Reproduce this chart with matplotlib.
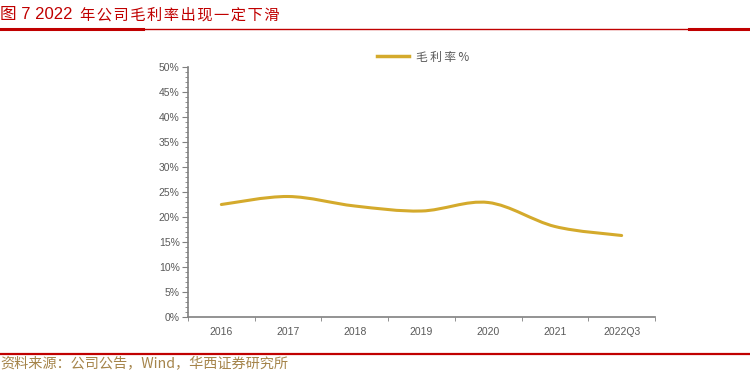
import numpy as np
import matplotlib.pyplot as plt
from matplotlib.path import Path
from matplotlib.patches import PathPatch
from matplotlib.lines import Line2D
from matplotlib.ticker import MultipleLocator, PercentFormatter

plt.rcParams['font.family'] = ['Noto Sans CJK SC', 'DejaVu Sans']

# 数据
categories = ['2016', '2017', '2018', '2019', '2020', '2021', '2022Q3']
gross_margin = [22.5, 24.1, 22.2, 21.2, 22.9, 18.1, 16.3]

title_num = '图 7 2022'
title_cn = '年公司毛利率出现一定下滑'
source_text = '资料来源：公司公告，Wind，华西证券研究所'
legend_label = '毛利率%'

red = '#C00000'
gold = '#D4AA2C'
grey = '#808080'


def spaced(s, sep='\u2009'):
    # 中文字符间加细空格，模仿原图的字距
    return sep.join(s)


fig = plt.figure(figsize=(7.5, 3.77), dpi=100)
ax = fig.add_axes([188 / 750, 1 - 317 / 377, 467 / 750, 250 / 377])

x = np.arange(len(categories))
y = np.array(gross_margin)

# 平滑曲线 (Catmull-Rom -> Bezier)
verts = [(x[0], y[0])]
codes = [Path.MOVETO]
n = len(x)
for i in range(n - 1):
    p0 = (x[max(i - 1, 0)], y[max(i - 1, 0)])
    p1 = (x[i], y[i])
    p2 = (x[i + 1], y[i + 1])
    p3 = (x[min(i + 2, n - 1)], y[min(i + 2, n - 1)])
    c1 = (p1[0] + (p2[0] - p0[0]) / 6, p1[1] + (p2[1] - p0[1]) / 6)
    c2 = (p2[0] - (p3[0] - p1[0]) / 6, p2[1] - (p3[1] - p1[1]) / 6)
    verts += [c1, c2, p2]
    codes += [Path.CURVE4] * 3
ax.add_patch(PathPatch(Path(verts, codes), facecolor='none', edgecolor=gold,
                       lw=2.2, capstyle='round', joinstyle='round'))

ax.set_xlim(-0.5, n - 0.5)
ax.set_ylim(0, 50)
ax.set_xticks(x)
ax.set_xticklabels(categories)
ax.set_xticks(np.arange(-0.5, n, 1), minor=True)
ax.tick_params(axis='x', which='major', length=0, pad=7, labelsize=7.5, labelcolor='#595959')
ax.tick_params(axis='x', which='minor', length=3, color=grey, direction='out')
ax.yaxis.set_major_locator(MultipleLocator(5))
ax.yaxis.set_minor_locator(MultipleLocator(1))
ax.yaxis.set_major_formatter(PercentFormatter(decimals=0))
ax.tick_params(axis='y', which='major', length=4, color=grey, labelsize=7.5,
               labelcolor='#595959', pad=2)
ax.tick_params(axis='y', which='minor', length=2, color=grey)
for lab in ax.get_xticklabels() + ax.get_yticklabels():
    lab.set_fontfamily(['Liberation Sans', 'DejaVu Sans'])
for s in ['top', 'right']:
    ax.spines[s].set_visible(False)
ax.spines['left'].set_color(grey)
ax.spines['bottom'].set_color(grey)
ax.spines['left'].set_linewidth(1.2)
ax.spines['bottom'].set_linewidth(1.2)

# 图例
handle = Line2D([], [], color=gold, lw=2.5)
ax.legend([handle], [spaced(legend_label)], loc='center left',
          bbox_to_anchor=(377 / 750, 1 - 57 / 377),
          bbox_transform=fig.transFigure, frameon=False, fontsize=8.5,
          labelcolor='#595959', handlelength=2.7, handletextpad=0.6,
          borderpad=0, borderaxespad=0)

# 标题与来源
fig.text(0.0, 1 - 15 / 377, title_num, color=red, fontsize=12, va='center', ha='left',
         family=['Liberation Sans', 'Noto Sans CJK SC'])
fig.text(80 / 750, 1 - 15 / 377, spaced(title_cn, '\u200a'), color=red, fontsize=11,
         va='center', ha='left')
fig.add_artist(Line2D([0, 143 / 750], [1 - 29 / 377] * 2, color=red, lw=2.2))
fig.add_artist(Line2D([143 / 750, 689 / 750], [1 - 29 / 377] * 2, color=red, lw=1.0))
fig.add_artist(Line2D([689 / 750, 1], [1 - 29 / 377] * 2, color=red, lw=2.2))
fig.add_artist(Line2D([0, 1], [1 - 354 / 377] * 2, color=red, lw=1.6))
fig.text(0.0, 1 - 364 / 377, source_text, color='#A5844A', fontsize=10.2, va='center', ha='left')

fig.savefig('out.png', dpi=100)
